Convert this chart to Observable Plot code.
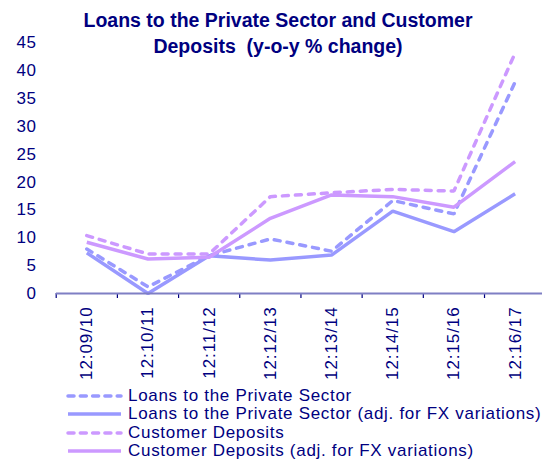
<!DOCTYPE html>
<html><head><meta charset="utf-8">
<script src="https://cdn.jsdelivr.net/npm/d3@7"></script>
<script src="https://cdn.jsdelivr.net/npm/@observablehq/plot@0.6"></script>
<style>
body{margin:0;background:#fff;}
#wrap{position:relative;width:542px;height:459px;overflow:hidden;font-family:Arial,"Liberation Sans",sans-serif;color:#000080;}
#chart{position:absolute;left:0;top:0;}
#title{position:absolute;left:0;width:556px;top:7px;text-align:center;font-weight:bold;font-size:19.5px;line-height:26px;white-space:pre;}
#legend{position:absolute;left:66px;top:387px;font-size:17px;letter-spacing:0.7px;}
.row{height:18.3px;line-height:18.3px;display:flex;align-items:center;white-space:nowrap;}
.row svg{margin-right:5px;flex:none;}
</style></head>
<body><div id="wrap"><div id="chart"></div>
<div id="title">Loans to the Private Sector and Customer
Deposits  (y-o-y % change)</div>
<div id="legend"></div></div>
<script>
const categories = ["12:09/10","12:10/11","12:11/12","12:12/13","12:13/14","12:14/15","12:15/16","12:16/17"];
const loans       = [8.0, 1.2, 6.8, 9.8, 7.6, 16.7, 14.3, 38.0];
const loansAdj    = [7.3, 0.0, 6.8, 6.0, 6.9, 14.8, 11.1, 17.9];
const deposits    = [10.4, 7.1, 7.1, 17.4, 18.1, 18.7, 18.4, 43.2];
const depositsAdj = [9.2, 6.2, 6.5, 13.5, 17.7, 17.4, 15.5, 23.7];
const yTicks = [0, 5, 10, 15, 20, 25, 30, 35, 40, 45];
const seriesNames = ["Loans to the Private Sector", "Loans to the Private Sector (adj. for FX variations)", "Customer Deposits", "Customer Deposits (adj. for FX variations)"];
const seriesValues = [loans, loansAdj, deposits, depositsAdj];
const seriesColors = ["#9999ff", "#9999ff", "#cc99ff", "#cc99ff"];
const seriesDashed = [true, false, true, false];

const navy = "#000080";
const rows = [];
seriesNames.forEach((s, k) => seriesValues[k].forEach((v, i) => rows.push({series: s, i, category: categories[i], value: v})));
const idx = categories.map((_, i) => i);
const boundaries = d3.range(categories.length + 1).map(i => i - 0.5);

const lineMarks = seriesNames.map((s, k) => Plot.line(rows.filter(r => r.series === s), {
  x: "i", y: "value", stroke: seriesColors[k], strokeWidth: 3.5,
  strokeDasharray: seriesDashed[k] ? "6,7" : null,
  strokeLinecap: seriesDashed[k] ? "round" : "butt", strokeLinejoin: "miter"
}));

const chart = Plot.plot({
  width: 542, height: 459,
  marginLeft: 56, marginRight: 0, marginTop: 42.5, marginBottom: 166,
  x: {domain: [-0.5, categories.length - 0.5], range: [55.7, 545.2]},
  y: {domain: [0, 45], range: [293, 42.5]},
  style: {fontFamily: "Arial, 'Liberation Sans', sans-serif", color: navy, background: "transparent", overflow: "visible"},
  marks: [
    Plot.axisY(yTicks, {tickSize: 0, tickPadding: 20, fontSize: 17, fill: navy, label: null}),
    Plot.axisX(boundaries, {tickSize: 5, tickFormat: () => "", stroke: navy, strokeWidth: 1.2, label: null}),
    Plot.axisX(idx, {tickSize: 0, tickPadding: 13, tickRotate: -90, fontSize: 17, fill: navy, tickFormat: i => categories[i], label: null, className: "xlab"}),
    ...lineMarks,
    Plot.ruleY([0], {stroke: "#7f7fc4", strokeWidth: 2})
  ]
});
document.getElementById("chart").appendChild(chart);
d3.select(chart).selectAll("text").attr("letter-spacing", "0.6px");
d3.select(chart).selectAll(".xlab text").attr("letter-spacing", "0.9px");

const legend = d3.select("#legend");
seriesNames.forEach((s, k) => {
  const row = legend.append("div").attr("class", "row");
  const sv = row.append("svg").attr("width", 57).attr("height", 8);
  sv.append("line").attr("x1", 2).attr("x2", 55).attr("y1", 4).attr("y2", 4)
    .attr("stroke", seriesColors[k]).attr("stroke-width", 3.5)
    .attr("stroke-linecap", seriesDashed[k] ? "round" : "butt")
    .attr("stroke-dasharray", seriesDashed[k] ? "6,6.3" : null);
  row.append("span").text(s);
});
</script></body></html>
